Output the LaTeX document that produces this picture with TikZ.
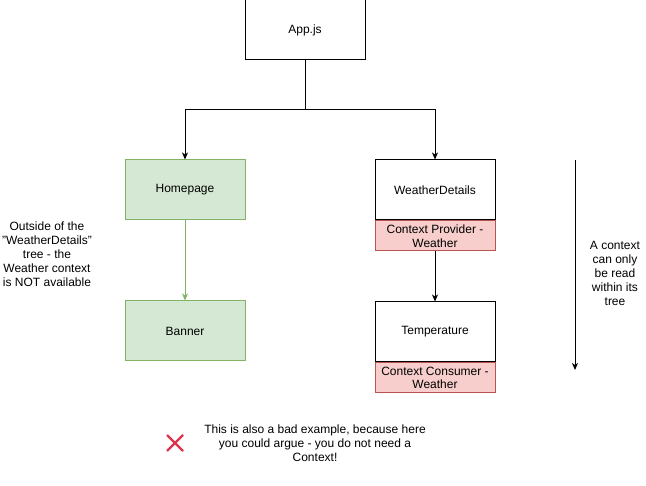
\documentclass[tikz,border=0pt]{standalone}
\usepackage{fontspec}
\setmainfont{Liberation Sans}
\usetikzlibrary{arrows.meta, positioning}
\definecolor{greenfill}{HTML}{D5E8D4}
\definecolor{greenline}{HTML}{82B366}
\definecolor{redfill}{HTML}{F8CECC}
\definecolor{redline}{HTML}{B85450}
\definecolor{crossred}{HTML}{E0334B}
\tikzset{
    txt/.style={font=\fontsize{12}{14}\selectfont},
    comp/.style={draw, line width=1pt, minimum width=120pt, minimum height=60pt, inner sep=0pt, txt},
    greencomp/.style={comp, fill=greenfill, draw=greenline},
    ctxbox/.style={draw=redline, fill=redfill, line width=1pt, minimum width=120pt, minimum height=30pt, inner sep=0pt, align=center, font=\fontsize{12}{13.5}\selectfont},
    note/.style={align=center, txt},
    link/.style={line width=1pt, -{Stealth[length=7pt, width=6pt, inset=2pt]}}
}

\begin{document}
\begin{tikzpicture}[x=1pt, y=-1pt]
        \useasboundingbox (0,0) rectangle (646,486);
        \node[comp] (app) at (305,30) {App.js};
        \node[greencomp] (homepage) at (185,190) {Homepage};
        \node[comp] (details) at (435,190) {WeatherDetails};
        \node[ctxbox, below=0pt of details] (provider) {Context Provider -\\Weather};
        \node[greencomp, below=80pt of homepage] (banner) {Banner};
        \node[comp, below=50pt of provider] (temperature) {Temperature};
        \node[ctxbox, below=0pt of temperature] (consumer) {Context Consumer -\\Weather};
        \coordinate (split) at (305,110);
        \draw[line width=1pt] (app.south) -- (split);
        \draw[link] (split) -| (homepage.north);
        \draw[link] (split) -| (details.north);
        \draw[link, draw=greenline, fill=greenline] (homepage) -- (banner);
        \draw[link] (provider) -- (temperature);
        % tree scope arrow
        \coordinate (treetop) at (575,160);
        \coordinate (treebottom) at (575,370);
        \draw[link] (treetop) -- (treebottom);
        \node[note] (scope) at (615,273) {A context\\can only\\be read\\within its\\tree};
        \node[note] (outside) at (47,254) {Outside of the\\"WeatherDetails"\\tree - the\\Weather context\\is NOT available};
        % bad example remark
        \node[note] (remark) at (315,443) {This is also a bad example, because here\\you could argue - you do not need a\\Context!};
        \coordinate (cross) at (175,443);
        \draw[crossred, line width=2.2pt] ([shift={(-8,-8)}]cross) -- ([shift={(8,8)}]cross)
            ([shift={(-8,8)}]cross) -- ([shift={(8,-8)}]cross);
\end{tikzpicture}
\end{document}
